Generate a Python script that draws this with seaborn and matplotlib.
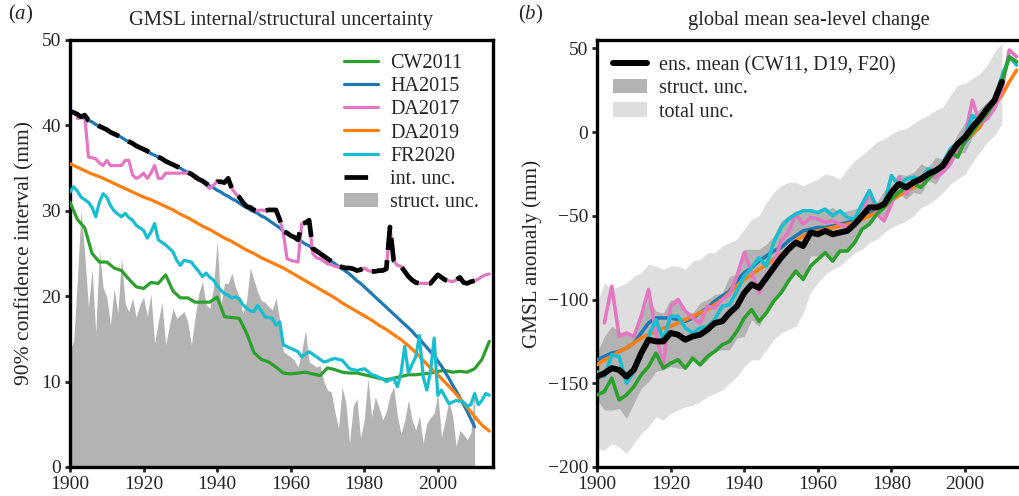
import numpy as np
import matplotlib
matplotlib.use("Agg")
import matplotlib.pyplot as plt
import matplotlib.patches as mpatches
from matplotlib.lines import Line2D
import seaborn as sns

# -------------------------------------------------
# DATA
# -------------------------------------------------
years_1 = np.arange(1900, 2015)      # annual
years_2 = np.arange(1900, 2015, 2)   # every second year
nan = np.nan

# (a) 90% confidence interval (mm)
ha2015_ci = [41.7, 41.5, 41.3, 41.0, 40.8, 40.6, 40.4, 40.1, 39.9, 39.7,
             39.5, 39.2, 39.0, 38.8, 38.6, 38.3, 38.1, 37.9, 37.6, 37.4,
             37.2, 37.0, 36.7, 36.5, 36.3, 36.1, 35.8, 35.6, 35.4, 35.2,
             35.0, 34.7, 34.5, 34.2, 34.0, 33.7, 33.5, 33.2, 32.9, 32.7,
             32.4, 32.2, 31.9, 31.7, 31.4, 31.2, 30.9, 30.6, 30.4, 30.1,
             29.9, 29.7, 29.4, 29.2, 28.9, 28.6, 28.3, 28.0, 27.6, 27.4,
             27.1, 26.9, 26.6, 26.4, 26.1, 25.9, 25.6, 25.3, 25.0, 24.7,
             24.4, 24.1, 23.8, 23.5, 23.2, 22.9, 22.6, 22.2, 21.8, 21.5,
             21.1, 20.7, 20.3, 19.9, 19.5, 19.1, 18.7, 18.3, 17.9, 17.5,
             17.1, 16.7, 16.3, 15.9, 15.4, 15.0, 14.5, 14.0, 13.5, 13.0,
             12.4, 11.8, 11.1, 10.4, 9.6, 8.9, 8.1, 7.3, 6.5, 5.6,
             4.7, nan, nan, nan, nan]

da2017_ci = [nan, nan, 40.8, 40.9, 41.2, 36.3, 36.2, 36.1, 35.6, 35.3,
             35.9, 35.3, 35.3, 35.3, 35.3, 35.9, 35.9, 34.2, 33.8, 34.0,
             34.4, 33.8, 34.4, 35.3, 33.8, 33.8, 34.4, 34.4, 34.4, 34.4,
             34.4, 34.4, 34.4, 34.3, 33.8, 33.6, 33.4, 33.0, 32.6, 33.0,
             33.4, 33.4, 33.3, 33.8, 32.6, 32.0, 31.6, 31.0, 30.5, 30.4,
             30.1, 30.0, 30.1, 30.0, 30.1, 30.1, 30.1, 29.0, 27.4, 24.4,
             24.2, 24.1, 24.0, 28.5, 28.6, 28.9, 25.0, 24.5, 24.4, 24.1,
             23.8, 23.7, 23.5, 23.4, 23.4, 23.3, 23.3, 23.2, 23.0, 23.1,
             23.3, 23.0, 22.9, 22.9, 23.0, 23.0, 23.2, 28.1, 24.2, 23.6,
             23.5, 22.9, 22.3, 21.9, 21.6, 21.5, 21.5, 21.5, 21.5, 22.0,
             22.5, 22.2, 21.9, 21.8, 21.7, 21.9, 22.2, 21.6, 21.5, 21.7,
             21.8, 22.0, 22.3, 22.5, 22.6]

fr2020_ci = [32.2, 32.8, 32.3, 31.6, 31.3, 31.0, 30.4, 29.3, 31.0, 32.0,
             31.6, 30.6, 30.0, 29.6, 29.3, 29.7, 29.2, 28.9, 28.3, 28.0,
             27.7, 26.8, 27.5, 28.5, 26.6, 26.3, 26.0, 25.6, 25.2, 24.2,
             23.6, 24.2, 24.1, 24.0, 23.4, 22.9, 22.3, 22.7, 22.2, 21.9,
             21.2, 20.7, 20.3, 20.1, 19.8, 19.9, 19.7, 19.0, 18.6, 18.3,
             18.2, 18.9, 18.3, 17.6, 17.5, 17.4, 16.6, 17.0, 14.3, 14.1,
             13.9, 13.7, 13.5, 12.9, 13.2, 13.5, 13.2, 12.9, 12.6, 12.3,
             12.4, 12.6, 12.7, 12.6, 12.5, 12.0, 11.5, 11.4, 11.3, 11.4,
             11.5, 11.2, 10.8, 10.7, 10.5, 10.3, 10.0, 10.2, 10.4, 9.4,
             11.0, 14.1, 11.0, 12.0, 12.9, 15.4, 10.6, 9.0, 11.1, 15.1,
             8.4, 9.0, 8.2, 7.4, 7.6, 7.8, 7.7, 7.6, 7.1, 7.3,
             8.6, 7.3, 7.8, 8.6, 8.4]

struct_ci = [13.5, 14.8, 22.0, 30.0, 25.0, 18.7, 23.2, 15.7, 25.4, 21.0,
             19.9, 16.6, 20.9, 18.0, 24.6, 19.1, 18.2, 19.8, 17.5, 19.0,
             19.9, 17.6, 20.3, 14.5, 17.0, 19.3, 14.3, 16.5, 18.6, 17.4,
             17.8, 18.2, 17.0, 14.3, 17.5, 20.3, 21.7, 19.0, 18.6, 21.0,
             26.5, 19.0, 21.5, 21.5, 22.7, 21.0, 20.0, 18.0, 19.5, 23.3,
             21.9, 20.5, 19.5, 19.3, 18.8, 18.4, 19.8, 17.2, 13.5, 13.2,
             12.9, 12.5, 11.7, 13.5, 16.0, 12.3, 12.0, 11.7, 11.9, 10.0,
             9.0, 8.8, 6.5, 4.5, 9.4, 7.5, 2.8, 7.1, 8.0, 3.4,
             5.5, 10.4, 5.9, 8.2, 7.0, 5.5, 6.5, 8.4, 9.4, 6.0,
             3.9, 5.5, 7.8, 5.5, 4.3, 6.0, 2.8, 5.1, 5.8, 6.3,
             8.6, 3.5, 5.5, 7.8, 6.0, 2.4, 4.3, 3.8, 3.2, 4.0,
             9.4, nan, nan, nan, nan]

cw2011_ci = [31.0, 29.0, 28.0, 25.0, 24.0, 24.0, 23.3, 23.0, 22.0, 21.1,
             20.9, 21.6, 21.5, 22.5, 20.6, 19.8, 19.8, 19.3, 19.3, 19.3,
             19.9, 17.6, 17.5, 17.4, 15.7, 13.4, 12.6, 12.3, 11.7, 11.0,
             10.9, 11.0, 11.1, 10.9, 10.7, 11.6, 11.4, 11.1, 11.0, 11.0,
             10.8, 10.6, 10.4, 10.2, 10.4, 10.6, 10.8, 10.8, 10.9, 11.0,
             11.2, 11.3, 11.1, 11.2, 11.1, 11.5, 12.6, 14.7]

da2019_ci = [35.5, 35.1, 34.7, 34.3, 34.0, 33.6, 33.2, 32.8, 32.4, 32.0,
             31.6, 31.3, 30.9, 30.5, 30.1, 29.6, 29.2, 28.7, 28.2, 27.8,
             27.3, 26.8, 26.4, 25.9, 25.4, 25.0, 24.5, 24.1, 23.7, 23.3,
             22.8, 22.3, 21.8, 21.3, 20.8, 20.3, 19.8, 19.2, 18.7, 18.2,
             17.7, 17.2, 16.6, 16.1, 15.5, 14.9, 14.2, 13.4, 12.5, 11.6,
             10.8, 9.9, 9.0, 8.0, 7.0, 5.9, 4.9, 4.2]

# (b) GMSL anomaly (mm), every second year
cw2011_gmsl = [-157, -155, -147, -160, -157, -152, -145, -140, -132, -141,
               -138, -136, -141, -135, -139, -134, -131, -127, -125, -119,
               -111, -106, -113, -108, -101, -96, -89, -83, -88, -80,
               -76, -72, -77, -71, -71, -66, -58, -55, -49, -45,
               -40, -36, -33, -31, -33, -28, -24, -20, -12, -15,
               -5, 0, 6, 11, 18, 30, 45, 42]
ha2015_gmsl = [-136, -134, -132, -131, -129, -126, -120, -114, -111, -111,
               -111, -112, -113, -111, -108, -105, -101, -98, -95, -89,
               -84, -81, -77, -74, -71, -69, -65, -62, -59, -58,
               -57, -57, -56, -55, -54, -53, -51, -49, -47, -44,
               -40, -37, -34, -32, -29, -27, -24, -21, -16, -11,
               -6, -1, 4, 10, 17, 25, nan, nan]
da2017_gmsl = [nan, -114, -92, -122, -120, -122, -110, -94, -120, -140,
               -104, -100, -107, -111, -114, -104, -105, -100, -97, -86,
               -72, -84, -96, -87, -79, -65, -60, -49, -55, -51,
               -52, -54, -53, -55, -57, -55, -50, -35, -49, -53,
               -43, -27, -37, -28, -32, -26, -27, -24, -19, -10,
               -2, 19, 5, 8, 14, 25, 49, 45]
da2019_gmsl = [-139, -136, -134, -131, -129, -126, -123, -121, -119, -117,
               -116, -114, -112, -110, -108, -106, -103, -100, -96, -92,
               -88, -85, -82, -79, -76, -73, -70, -65, -62, -60,
               -59, -58, -57, -56, -55, -54, -52, -50, -48, -45,
               -41, -38, -35, -33, -30, -27, -24, -20, -16, -10,
               -5, -1, 3, 10, 16, 22, 30, 37]
fr2020_gmsl = [-143, -146, -133, -134, -150, -143, -133, -122, -112, -124,
               -110, -110, -117, -120, -117, -116, -112, -104, -103, -95,
               -86, -81, -75, -80, -66, -57, -52, -49, -47, -47,
               -48, -46, -50, -47, -51, -52, -43, -35, -45, -43,
               -26, -32, -28, -27, -28, -22, -24, -18, -10, -6,
               -2, 10, 6, 12, 20, 33, 45, 40]
ens_mean = [-146, -144, -141, -142, -146, -142, -132, -124, -125, -125,
            -120, -121, -124, -122, -121, -118, -114, -113, -108, -104,
            -96, -91, -93, -87, -81, -75, -70, -66, -68, -60,
            -61, -59, -61, -60, -59, -55, -50, -45, -45, -43,
            -36, -31, -33, -30, -28, -25, -23, -20, -13, -7,
            -3, 3, 8, 14, 19, 30, nan, nan]
struct_lo = [-160, -166, -166, -165, -171, -162, -153, -149, -143, -142,
             -140, -141, -141, -136, -140, -136, -131, -130, -130, -123,
             -122, -112, -116, -107, -100, -97, -89, -85, -88, -74,
             -74, -71, -77, -72, -71, -64, -56, -54, -48, -51,
             -41, -37, -40, -36, -37, -29, -31, -24, -16, -13,
             -12, -3, 2, 10, 16, 21, nan, nan]
struct_hi = [-132, -122, -116, -119, -121, -122, -111, -99, -107, -108,
             -100, -101, -107, -108, -102, -100, -97, -96, -86, -85,
             -70, -70, -70, -67, -62, -53, -50, -47, -48, -47,
             -48, -47, -45, -48, -47, -46, -44, -36, -42, -35,
             -31, -25, -26, -24, -19, -21, -15, -16, -10, -1,
             6, 9, 14, 18, 22, 39, nan, nan]
total_lo = [-189, -190, -186, -188, -192, -186, -180, -176, -170, -172,
            -168, -166, -164, -163, -161, -158, -156, -154, -150, -146,
            -140, -136, -136, -130, -124, -120, -118, -116, -108, -96,
            -90, -85, -82, -80, -76, -72, -70, -66, -64, -60,
            -57, -55, -53, -50, -45, -43, -40, -36, -31, -28,
            -25, -18, -12, -6, -2, 5, nan, nan]
total_hi = [-102, -90, -94, -92, -90, -86, -84, -79, -80, -82,
            -80, -80, -82, -77, -76, -72, -72, -68, -66, -64,
            -58, -52, -50, -42, -36, -32, -30, -30, -32, -30,
            -28, -25, -26, -28, -22, -17, -14, -10, -6, -4,
            -1, 1, 2, 5, 8, 10, 13, 15, 22, 28,
            29, 32, 35, 40, 48, 53, nan, nan]

labels = ["CW2011", "HA2015", "DA2017", "DA2019", "FR2020"]
colors = {"CW2011": "#2ca02c", "HA2015": "#1f77b4", "DA2017": "#e377c2",
          "DA2019": "#ff7f0e", "FR2020": "#17becf"}

# internal uncertainty = envelope of the HA2015 / DA2017 records
ha = np.array(ha2015_ci, dtype=float)
da = np.array(da2017_ci, dtype=float)
int_unc = np.where(np.isnan(ha), np.nan, np.fmax(ha, da))

# -------------------------------------------------
# STYLE
# -------------------------------------------------
sns.set_theme(style="ticks")
plt.rcParams["font.family"] = ["Liberation Serif", "DejaVu Serif"]
plt.rcParams["mathtext.fontset"] = "custom"
plt.rcParams["mathtext.rm"] = "Liberation Serif"
plt.rcParams["mathtext.it"] = "Liberation Serif:italic"
plt.rcParams["axes.linewidth"] = 2.4
plt.rcParams["xtick.major.width"] = 2.0
plt.rcParams["ytick.major.width"] = 2.0
plt.rcParams["xtick.major.size"] = 3.5
plt.rcParams["ytick.major.size"] = 3.5
plt.rcParams["xtick.labelsize"] = 14
plt.rcParams["ytick.labelsize"] = 14
plt.rcParams["axes.edgecolor"] = "black"

fig = plt.figure(figsize=(10.19, 4.96), dpi=100)
ax1 = fig.add_axes([0.0687, 0.0585, 0.4151, 0.8609])
ax2 = fig.add_axes([0.5859, 0.0585, 0.4161, 0.8609])

# -------------------------------------------------
# (a) internal / structural uncertainty
# -------------------------------------------------
ax1.fill_between(years_1, 0, np.array(struct_ci, dtype=float),
                 color="#b3b3b3", lw=0, zorder=1)
ci_series = {"CW2011": (years_2, cw2011_ci), "HA2015": (years_1, ha2015_ci),
             "DA2017": (years_1, da2017_ci), "DA2019": (years_2, da2019_ci),
             "FR2020": (years_1, fr2020_ci)}
for name in labels:
    x, y = ci_series[name]
    sns.lineplot(x=x, y=y, ax=ax1, color=colors[name], lw=2.3, zorder=3)
ax1.plot(years_1, int_unc, color="black", lw=3.4, dashes=(5, 2.2), zorder=4)

ax1.set_xlim(1900, 2015)
ax1.set_ylim(0, 50)
ax1.set_xticks(range(1900, 2001, 20))
ax1.set_yticks(range(0, 51, 10))
ax1.set_ylabel("90% confidence interval (mm)", fontsize=15.5, labelpad=5)
ax1.set_xlabel("")
ax1.set_title("GMSL internal/structural uncertainty", fontsize=14.8, pad=11)

handles = [Line2D([], [], color=colors[n], lw=2.3) for n in labels]
handles.append(Line2D([], [], color="black", lw=3.4, dashes=(5, 2.2)))
handles.append(mpatches.Patch(color="#b3b3b3", lw=0))
ax1.legend(handles, labels + ["int. unc.", "struct. unc."], loc="upper right",
           frameon=False, fontsize=14.5, handlelength=1.7, labelspacing=0.2,
           borderaxespad=0.3, handletextpad=0.6)

# -------------------------------------------------
# (b) global mean sea-level change
# -------------------------------------------------
ax2.fill_between(years_2, np.array(total_lo, dtype=float),
                 np.array(total_hi, dtype=float), color="#dedede", lw=0, zorder=1)
ax2.fill_between(years_2, np.array(struct_lo, dtype=float),
                 np.array(struct_hi, dtype=float), color="#b3b3b3", lw=0, zorder=2)
gmsl_series = {"CW2011": cw2011_gmsl, "HA2015": ha2015_gmsl, "DA2017": da2017_gmsl,
               "DA2019": da2019_gmsl, "FR2020": fr2020_gmsl}
for name in ["HA2015", "DA2019", "DA2017", "FR2020", "CW2011"]:
    sns.lineplot(x=years_2, y=gmsl_series[name], ax=ax2, color=colors[name],
                 lw=2.6, zorder=3)
sns.lineplot(x=years_2, y=ens_mean, ax=ax2, color="black", lw=4.3, zorder=4)

ax2.set_xlim(1900, 2015.2)
ax2.set_ylim(-200, 55)
ax2.set_xticks(range(1900, 2001, 20))
ax2.set_yticks(range(-200, 51, 50))
ax2.set_ylabel("GMSL anomaly (mm)", fontsize=15.2, labelpad=4)
ax2.set_xlabel("")
ax2.set_title("global mean sea-level change", fontsize=14.8, pad=11)

handles2 = [Line2D([], [], color="black", lw=4.3),
            mpatches.Patch(color="#b3b3b3", lw=0),
            mpatches.Patch(color="#dedede", lw=0)]
ax2.legend(handles2, ["ens. mean (CW11, D19, F20)", "struct. unc.", "total unc."],
           loc="upper left", frameon=False, fontsize=14.5, handlelength=1.7,
           labelspacing=0.2, borderaxespad=0.4, handletextpad=0.6)

for ax in (ax1, ax2):
    ax.tick_params(direction="out", pad=3)
    for s in ax.spines.values():
        s.set_visible(True)

fig.text(0.008, 0.97, r"($\mathit{a}$)", fontsize=15, va="center", ha="left")
fig.text(0.508, 0.97, r"($\mathit{b}$)", fontsize=15, va="center", ha="left")

fig.savefig("out.png", dpi=100)
